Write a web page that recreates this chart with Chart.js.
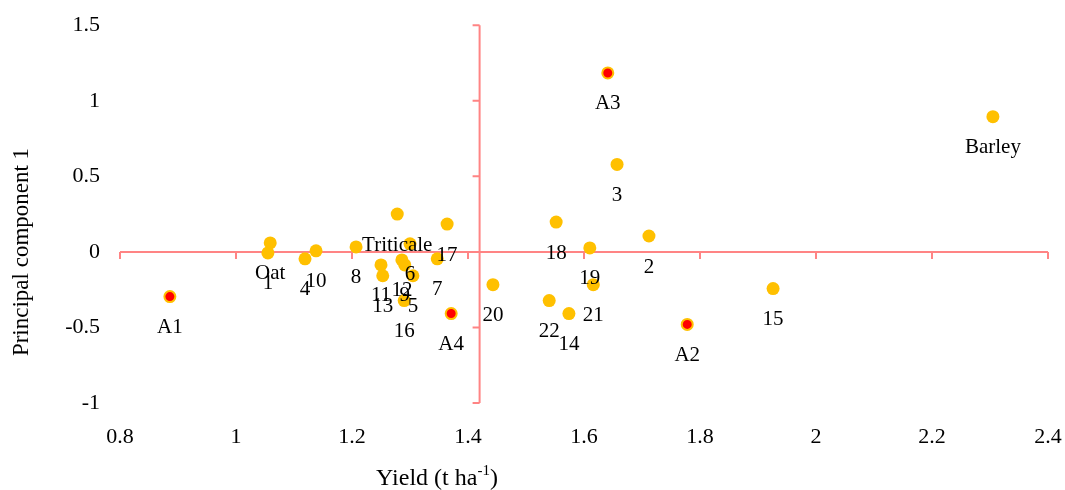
<!DOCTYPE html>
<html>
<head>
<meta charset="utf-8">
<script src="https://cdn.jsdelivr.net/npm/chart.js@4.4.1/dist/chart.umd.min.js"></script>
<style>
  html, body { margin: 0; padding: 0; background: #fff; }
  #wrap { width: 1065px; height: 490px; }
</style>
</head>
<body>
<div id="wrap"><canvas id="myChart"></canvas></div>
<script>
// genotypes (gold points)
const names = ["Oat", "Triticale", "Barley", "1", "2", "3", "4", "5", "6", "7", "8", "9", "10",
  "11", "12", "13", "14", "15", "16", "17", "18", "19", "20", "21", "22"];
const yieldValues = [1.059, 1.278, 2.305, 1.055, 1.712, 1.657, 1.119, 1.305, 1.300, 1.347, 1.207, 1.291, 1.138,
  1.250, 1.286, 1.253, 1.574, 1.926, 1.290, 1.364, 1.552, 1.610, 1.443, 1.616, 1.540];
const pc1Values = [0.059, 0.250, 0.895, -0.007, 0.105, 0.579, -0.046, -0.158, 0.053, -0.046, 0.033, -0.086, 0.007,
  -0.086, -0.053, -0.158, -0.408, -0.243, -0.322, 0.184, 0.197, 0.026, -0.217, -0.217, -0.322];

// checks (red points)
const checkNames = ["A1", "A2", "A3", "A4"];
const checkYield = [0.886, 1.778, 1.641, 1.371];
const checkPC1 = [-0.296, -0.480, 1.184, -0.408];

// axes
const xMin = 0.8, xMax = 2.4, xStep = 0.2;
const yMin = -1, yMax = 1.5, yStep = 0.5;
const yAxisCross = 1.42; // where the vertical axis crosses
const xTitle = "Yield (t ha";
const xTitleSup = "-1";
const yTitle = "Principal component 1";

const axisColor = "rgba(255,110,110,0.85)";
const serif = "'Liberation Serif', 'Times New Roman', serif";

Chart.defaults.font.family = serif;
Chart.defaults.color = "#000";

function toPoints(xs, ys) {
  return xs.map((x, i) => ({ x: x, y: ys[i] }));
}

function fmt(v) {
  return String(Math.round(v * 10) / 10);
}

// red crossing axes with tick marks
const crossAxes = {
  id: "crossAxes",
  beforeDatasetsDraw(chart) {
    const ctx = chart.ctx;
    const xs = chart.scales.x, ys = chart.scales.y;
    const y0 = ys.getPixelForValue(0);
    const xc = xs.getPixelForValue(yAxisCross);
    ctx.save();
    ctx.strokeStyle = axisColor;
    ctx.lineWidth = 2;
    ctx.beginPath();
    ctx.moveTo(xs.getPixelForValue(xMin), y0);
    ctx.lineTo(xs.getPixelForValue(xMax), y0);
    ctx.moveTo(xc, ys.getPixelForValue(yMax));
    ctx.lineTo(xc, ys.getPixelForValue(yMin));
    xs.ticks.forEach(t => {
      const px = xs.getPixelForValue(t.value);
      ctx.moveTo(px, y0);
      ctx.lineTo(px, y0 + 7);
    });
    ys.ticks.forEach(t => {
      const py = ys.getPixelForValue(t.value);
      ctx.moveTo(xc - 7, py);
      ctx.lineTo(xc, py);
    });
    ctx.stroke();
    ctx.restore();
  }
};

// point labels under each marker, plus axis titles
const pointLabels = {
  id: "pointLabels",
  afterDatasetsDraw(chart) {
    const ctx = chart.ctx;
    ctx.save();
    ctx.fillStyle = "#000";
    ctx.font = "21px " + serif;
    ctx.textAlign = "center";
    ctx.textBaseline = "middle";
    chart.data.datasets.forEach((ds, di) => {
      const meta = chart.getDatasetMeta(di);
      meta.data.forEach((el, i) => {
        ctx.fillText(ds.names[i], el.x, el.y + 31);
      });
    });

    // y title
    ctx.save();
    ctx.translate(22, 252);
    ctx.rotate(-Math.PI / 2);
    ctx.font = "23px " + serif;
    ctx.fillText(yTitle, 0, 0);
    ctx.restore();

    // x title with superscript
    ctx.textAlign = "left";
    ctx.textBaseline = "alphabetic";
    ctx.font = "24px " + serif;
    const w1 = ctx.measureText(xTitle).width;
    ctx.font = "15px " + serif;
    const w2 = ctx.measureText(xTitleSup).width;
    ctx.font = "24px " + serif;
    const w3 = ctx.measureText(")").width;
    let x = 437 - (w1 + w2 + w3) / 2;
    const base = 485;
    ctx.fillText(xTitle, x, base);
    x += w1;
    ctx.font = "15px " + serif;
    ctx.fillText(xTitleSup, x, base - 10);
    x += w2;
    ctx.font = "24px " + serif;
    ctx.fillText(")", x, base);
    ctx.restore();
  }
};

const config = {
  type: "scatter",
  data: {
    datasets: [
      {
        label: "genotypes",
        names: names,
        data: toPoints(yieldValues, pc1Values),
        backgroundColor: "#FFC000",
        borderWidth: 0,
        pointRadius: 6.5
      },
      {
        label: "checks",
        names: checkNames,
        data: toPoints(checkYield, checkPC1),
        backgroundColor: "#FF0000",
        borderColor: "#FFC000",
        borderWidth: 2,
        pointRadius: 5.5
      }
    ]
  },
  options: {
    responsive: true,
    maintainAspectRatio: false,
    animation: false,
    events: [],
    layout: { padding: { left: 0, right: 17, top: 12, bottom: 0 } },
    plugins: {
      legend: { display: false },
      tooltip: { enabled: false }
    },
    scales: {
      x: {
        type: "linear",
        min: xMin,
        max: xMax,
        grid: { display: false },
        border: { display: false },
        ticks: { stepSize: xStep, padding: 13, font: { size: 22 }, color: "#000", callback: fmt },
        afterFit(scale) {
          scale.height = 87;
          scale.paddingRight = 0;
          scale.paddingLeft = 0;
        }
      },
      y: {
        type: "linear",
        min: yMin,
        max: yMax,
        grid: { display: false },
        border: { display: false },
        ticks: { stepSize: yStep, padding: 12, font: { size: 22 }, color: "#000", callback: fmt },
        afterFit(scale) { scale.width = 120; }
      }
    }
  },
  plugins: [crossAxes, pointLabels]
};

const myChart = new Chart(document.getElementById("myChart"), config);
</script>
</body>
</html>
